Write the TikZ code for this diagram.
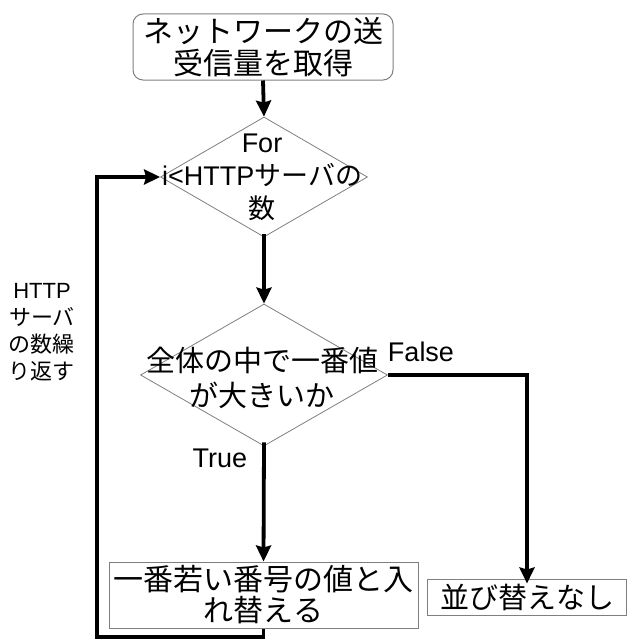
\documentclass[tikz,border=0pt]{standalone}
\usepackage{fontspec}
\setmainfont{Liberation Sans}
\newfontfamily\jp{Noto Sans CJK JP}
\usetikzlibrary{shapes.geometric,arrows.meta}
\definecolor{edgegray}{HTML}{7F7F7F}
\begin{document}
\begin{tikzpicture}[x=1pt,y=-1pt,
  gbox/.style={draw=edgegray, line width=1pt, inner sep=0pt, align=center},
  gdiam/.style={diamond, draw=edgegray, line width=0.8pt, inner sep=0pt},
  flow/.style={line width=3.8pt, -{Stealth[length=16pt,width=15pt,inset=2pt]}},
  lbl/.style={inner sep=0pt, align=center}]
\useasboundingbox (0,0) rectangle (627,642);

\node[gbox, rounded corners=10pt, minimum width=260pt, minimum height=66pt,
  font=\fontsize{30}{32}\selectfont\jp] (start) at (263,47) {ネットワークの送\\受信量を取得};

\node[gdiam, minimum width=207pt, minimum height=120pt] (d1) at (264,177) {};
\node[lbl, font=\fontsize{27}{33}\selectfont] (d1t) at (262,177) {For\\i<HTTP{\jp サーバの}\\{\jp 数}};

\node[gdiam, minimum width=247pt, minimum height=142pt] (d2) at (264,375) {};
\node[lbl, font=\fontsize{29}{35}\selectfont\jp] (d2t) at (262,378) {全体の中で一番値\\が大きいか};

\node[gbox, minimum width=309pt, minimum height=66pt,
  font=\fontsize{30}{31}\selectfont\jp] (b1) at (263.5,595) {一番若い番号の値と入\\れ替える};
\node[gbox, minimum width=199pt, minimum height=36pt,
  font=\fontsize{29}{31}\selectfont\jp] (b2) at (527,597) {並び替えなし};

\node[lbl, font=\fontsize{27}{28}\selectfont] (lf) at (421,352) {False};
\node[lbl, font=\fontsize{27}{28}\selectfont] (lt) at (220,458) {True};
\node[lbl, font=\fontsize{22}{27}\selectfont] (ll) at (42,332) {HTTP\\{\jp サーバ}\\{\jp の数繰}\\{\jp り返す}};

\coordinate (lp) at (97,637);

\draw[flow] (start.south) -- (d1.north);
\draw[flow] ([yshift=3pt]d1.south) -- (d2.north);
\draw[flow] (d2.east) -| ([yshift=-5pt]b2.north);
\draw[flow] ([yshift=4pt]d2.south) -- (b1.north);
\draw[flow] (b1.south) |- (lp) |- (d1.west);
\end{tikzpicture}
\end{document}
